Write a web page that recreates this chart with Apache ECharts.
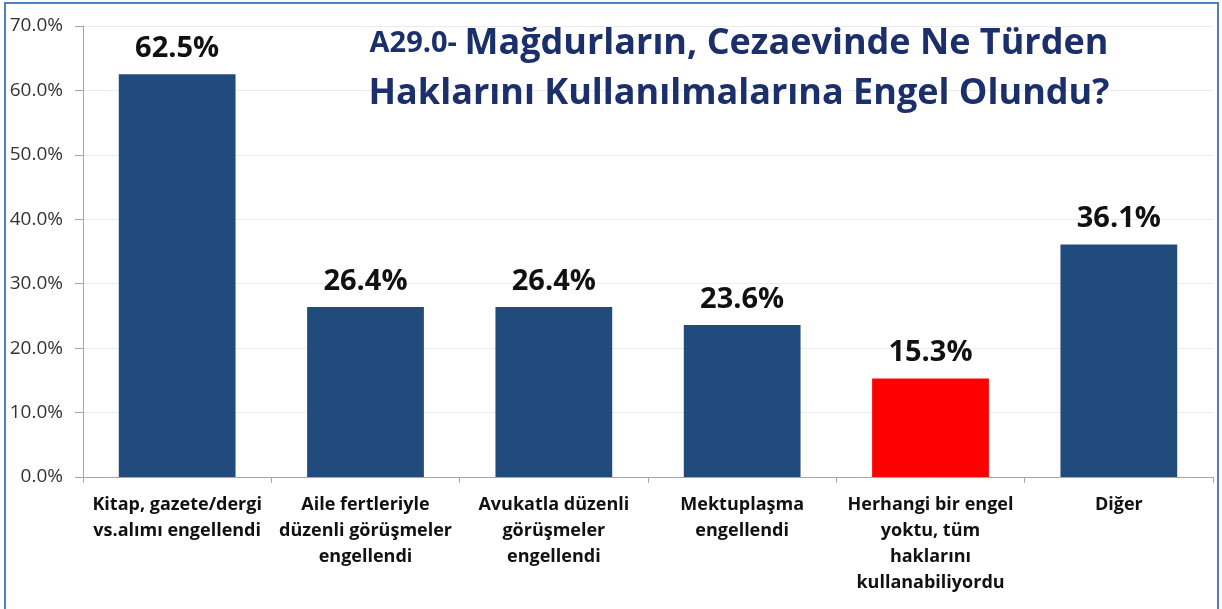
<!DOCTYPE html>
<html>
<head>
<meta charset="utf-8">
<script src="https://cdn.jsdelivr.net/npm/echarts@6/dist/echarts.min.js"></script>
<style>
  html, body { margin: 0; padding: 0; background: #fff; }
  #chart { width: 1222px; height: 609px; }
</style>
</head>
<body>
<div id="chart"></div>
<script>
// Answer categories (x axis) and share of victims (%) for each
const categories = [
  'Kitap, gazete/dergi\nvs.alımı engellendi',
  'Aile fertleriyle\ndüzenli görüşmeler\nengellendi',
  'Avukatla düzenli\ngörüşmeler\nengellendi',
  'Mektuplaşma\nengellendi',
  'Herhangi bir engel\nyoktu, tüm\nhaklarını\nkullanabiliyordu',
  'Diğer'
];
const values = [62.5, 26.4, 26.4, 23.6, 15.3, 36.1];
const barColors = ['#214a7d', '#214a7d', '#214a7d', '#214a7d', '#ff0000', '#214a7d'];

const yMin = 0, yMax = 70, yStep = 10;

const FONT = '"Open Sans", Lato, "Noto Sans", sans-serif';

const chart = echarts.init(document.getElementById('chart'), null, { renderer: 'canvas' });

chart.setOption({
  animation: false,
  backgroundColor: '#ffffff',
  title: {
    left: 734,
    top: 14,
    textAlign: 'center',
    text: '{a|A29.0- }{b|Mağdurların, Cezaevinde Ne Türden}\n{b|Haklarını Kullanılmalarına Engel Olundu?}',
    textStyle: {
      rich: {
        a: { fontFamily: FONT, fontWeight: 'bold', fontSize: 29, color: '#1b2f6b', lineHeight: 50 },
        b: { fontFamily: FONT, fontWeight: 'bold', fontSize: 36, color: '#1b2f6b', lineHeight: 50 }
      }
    }
  },
  grid: { left: 83, right: 9, top: 26, bottom: 132, containLabel: false },
  xAxis: {
    type: 'category',
    data: categories,
    axisLine: { show: true, lineStyle: { color: '#a6a6a6', width: 1 } },
    axisTick: { show: true, length: 6, lineStyle: { color: '#a6a6a6' } },
    axisLabel: {
      interval: 0,
      margin: 15,
      fontFamily: FONT,
      fontWeight: 'bold',
      fontSize: 18,
      lineHeight: 26,
      color: '#111'
    }
  },
  yAxis: {
    type: 'value',
    min: yMin,
    max: yMax,
    interval: yStep,
    axisLine: { show: true, lineStyle: { color: '#a6a6a6', width: 1 } },
    axisTick: { show: true, length: 8, lineStyle: { color: '#a6a6a6' } },
    splitLine: { show: true, lineStyle: { color: '#ececec', width: 1 } },
    axisLabel: {
      margin: 20,
      fontFamily: FONT,
      fontSize: 19,
      color: '#333',
      formatter: v => v.toFixed(1) + '%'
    }
  },
  series: [{
    type: 'bar',
    barWidth: '62%',
    data: values.map((v, i) => ({ value: v, itemStyle: { color: barColors[i] } })),
    label: {
      show: true,
      position: 'top',
      distance: 11,
      fontFamily: FONT,
      fontWeight: 'bold',
      fontSize: 29,
      color: '#111',
      formatter: p => p.value.toFixed(1) + '%'
    }
  }],
  graphic: [{
    type: 'rect',
    silent: true,
    shape: { x: 5, y: 3, width: 1213, height: 640 },
    style: { fill: 'none', stroke: '#4f81bd', lineWidth: 2 }
  }]
});
</script>
</body>
</html>
